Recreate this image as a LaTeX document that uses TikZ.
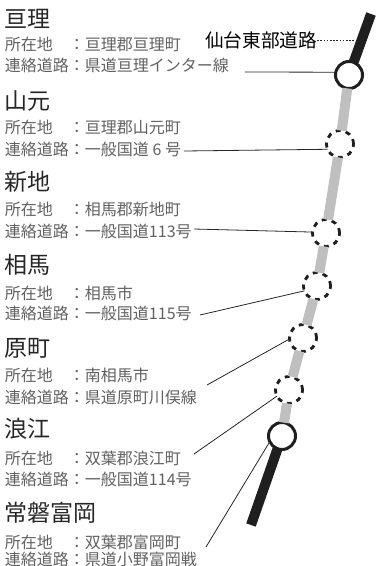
\documentclass[tikz,border=0pt]{standalone}
\usepackage{fontspec}
\setmainfont{Noto Sans CJK JP}
\usetikzlibrary{arrows}

\begin{document}
\begin{tikzpicture}[x=1pt,y=-1pt
	,line cap=butt
	,semithick]
  \tikzstyle{every node}=[inner sep=0pt,outer sep=0pt]
  \tikzstyle{ic}=[circle,draw=black!88,fill=white,minimum size=27pt,line width=3pt]
  \tikzstyle{pa}=[ic,line width=2.8pt,dash pattern=on 5pt off 5.2pt]
  \tikzstyle{head}=[anchor=west,font=\fontsize{23}{23}\selectfont,text=black!85]
  \tikzstyle{info}=[anchor=west,font=\fontsize{16}{16}\selectfont,text=black!62]
  \tikzstyle{open}=[line width=10pt,draw=black!88]
  \tikzstyle{plan}=[line width=10pt,draw=black!25]
  \tikzstyle{lead}=[draw=black!85,line width=0.8pt]

  \useasboundingbox (0,0) rectangle (377,566);

  % interchanges, top to bottom
  \node[ic](st1) at (349,75)  {};
  \node[pa](st2) at (340,144) {};
  \node[pa](st3) at (326,233) {};
  \node[pa](st4) at (317,286) {};
  \node[pa](st5) at (303,338) {};
  \node[pa](st6) at (289,390) {};
  \node[ic](st7) at (282,436) {};

  % road ends
  \coordinate (north) at (371,14);
  \coordinate (south) at (251,525);

  % road
  \path [open] (north) edge (st1);
  \path [plan] (st1)   edge (st2);
  \path [plan] (st2)   edge (st3);
  \path [plan] (st3)   edge (st4);
  \path [plan] (st4)   edge (st5);
  \path [plan] (st5)   edge (st6);
  \path [plan] (st6)   edge (st7);
  \path [open] (st7)   edge (south);

  % 3 lines per interchange
  \node[head](h1) at (5,19)  {亘理};
  \node[info](a1) at (5,44)  {所在地　：亘理郡亘理町};
  \node[info](r1) at (5,65)  {連絡道路：県道亘理インター線};
  \node[head](h2) at (5,101) {山元};
  \node[info](a2) at (5,127) {所在地　：亘理郡山元町};
  \node[info](r2) at (5,149) {連絡道路：一般国道 6 号};
  \node[head](h3) at (5,182) {新地};
  \node[info](a3) at (5,209) {所在地　：相馬郡新地町};
  \node[info](r3) at (5,231) {連絡道路：一般国道113号};
  \node[head](h4) at (5,265) {相馬};
  \node[info](a4) at (5,293) {所在地　：相馬市};
  \node[info](r4) at (5,313) {連絡道路：一般国道115号};
  \node[head](h5) at (5,348) {原町};
  \node[info](a5) at (5,375) {所在地　：南相馬市};
  \node[info](r5) at (5,397) {連絡道路：県道原町川俣線};
  \node[head](h6) at (5,429) {浪江};
  \node[info](a6) at (5,458) {所在地　：双葉郡浪江町};
  \node[info](r6) at (5,479) {連絡道路：一般国道114号};
  \node[head](h7) at (5,513) {常磐富岡};
  \node[info](a7) at (5,542) {所在地　：双葉郡富岡町};
  \node[info](r7) at (5,559) {連絡道路：県道小野富岡戦};

  % road name
  \node[anchor=west,font=\fontsize{18.7}{18.7}\selectfont,text=black](name)
    at (205,40) {仙台東部道路};
  \coordinate (namedot) at (355,40);
  \draw [lead,dash pattern=on 1.6pt off 1.6pt] (name) -- (namedot);

  % free ends of the leaders
  \coordinate (l1) at (245,72);
  \coordinate (l2) at (184,151);
  \coordinate (l3) at (194,229);
  \coordinate (l4) at (200,315);
  \coordinate (l5) at (207,385);
  \coordinate (l6) at (194,454);
  \coordinate (l7) at (206,547);

  \draw [lead] (l1) -- (st1.168);
  \draw [lead] (l2) -- (st2.203);
  \draw [lead] (l3) -- (st3.176);
  \draw [lead] (l4) -- (st4.201);
  \draw [lead] (l5) -- (st5.184);
  \draw [lead] (l6) -- (st6.207);
  \draw [lead] (l7) -- (st7.205);
\end{tikzpicture}
\end{document}
